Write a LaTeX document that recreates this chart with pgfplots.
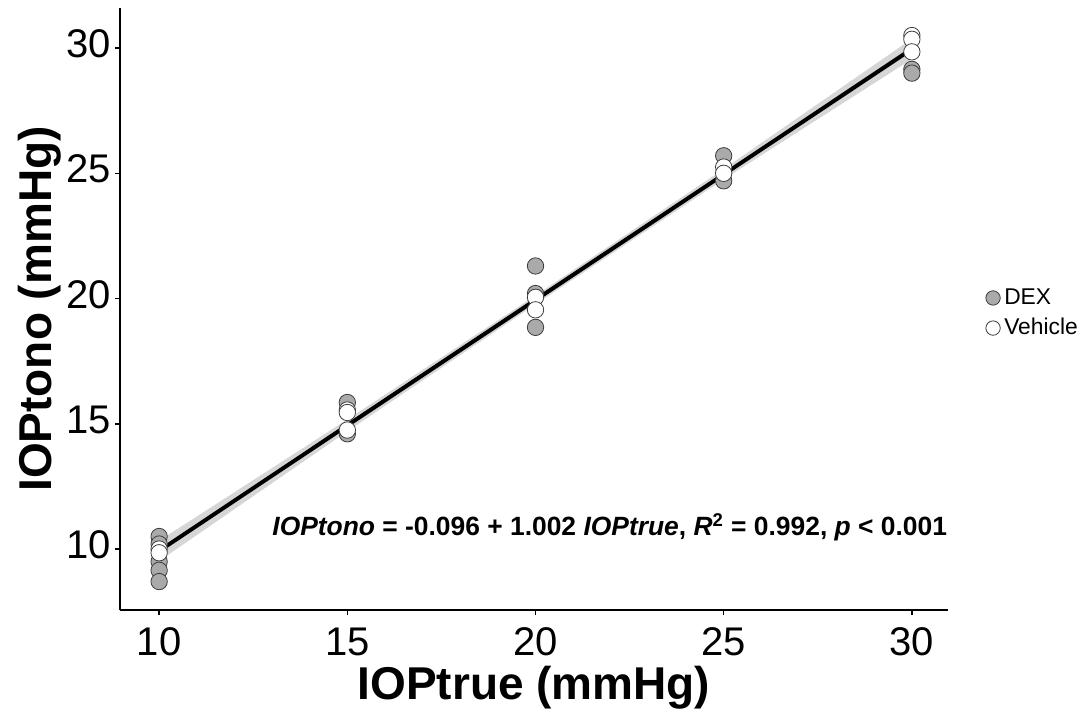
\documentclass[border=0pt]{standalone}
\usepackage{pgfplots}
\pgfplotsset{compat=1.18}
\usepackage{fontspec}
\setmainfont{Liberation Sans}
\definecolor{dexfill}{RGB}{170,170,170}
\definecolor{mkedge}{RGB}{60,60,60}
\definecolor{bandc}{RGB}{153,153,153}
\begin{document}
\begin{tikzpicture}[x=1pt,y=1pt]
\path[use as bounding box] (-60,-51.5) rectangle (484,305);
\begin{axis}[
  at={(0,0)}, anchor=south west,
  scale only axis, width=414pt, height=301pt,
  xmin=8.96, xmax=30.96, ymin=7.565, ymax=31.6,
  axis x line*=bottom, axis y line*=left,
  axis line style={line width=0.75pt, -},
  xtick={10,15,20,25,30}, ytick={10,15,20,25,30},
  tick align=outside, major tick length=2.5pt,
  tick style={line width=0.75pt, black},
  minor tick num=0,
  typeset ticklabels with strut,
  ticklabel style={font=\fontsize{20}{24}\selectfont},
  yticklabel style={xshift=1.5pt},
  /pgf/number format/assume math mode=true,
  xlabel={IOPtrue (mmHg)}, ylabel={IOPtono (mmHg)},
  label style={font=\fontsize{23}{27}\selectfont\bfseries},
  xlabel style={at={(axis description cs:0.5,-0.1296)}, anchor=center},
  ylabel style={at={(axis description cs:-0.0966,0.5)}, anchor=center},
  legend style={at={(1.038,0.493)}, anchor=west, draw=none, fill=none,
    font=\fontsize{11.4}{13}\selectfont, row sep=1.5pt},
  legend cell align=left,
  legend image post style={mark size=3.6pt},
  clip=false,
]
\addplot[only marks, mark=*, mark size=4.1pt, mark options={fill=dexfill, draw=mkedge, line width=0.4pt}]
coordinates {(10,10.5)(10,10.2)(10,9.5)(10,9.15)(10,8.7)(15,15.85)(15,14.6)(20,21.3)(20,20.2)(20,18.85)(25,25.7)(25,24.7)(30,29.15)(30,29.0)};
\addlegendentry{DEX}
\addplot[only marks, mark=*, mark size=4.1pt, mark options={fill=white, draw=mkedge, line width=0.4pt}]
coordinates {(10,10.0)(10,9.85)(15,15.55)(15,15.45)(15,14.75)(20,20.05)(20,19.55)(25,25.25)(25,25.0)(30,30.5)(30,30.35)(30,29.85)};
\addlegendentry{Vehicle}
\addplot[forget plot, draw=none, fill=bandc, fill opacity=0.4]
coordinates {(10,10.33)(15,15.17)(20,20.12)(25,25.17)(30,30.37)(30,29.56)(25,24.76)(20,19.77)(15,14.70)(10,9.52)} -- cycle;
\addplot[forget plot, black, line width=2pt] coordinates {(10,9.924)(20,19.944)(30,29.964)};
\node[anchor=west, font=\bfseries\fontsize{13.2}{15}\selectfont, inner sep=0pt] at (axis cs:13.0,10.88)
{\textit{IOPtono} = -0.096 + 1.002 \textit{IOPtrue}, \textit{R}\textsuperscript{2} = 0.992, \textit{p} < 0.001};
\end{axis}
\end{tikzpicture}
\end{document}
